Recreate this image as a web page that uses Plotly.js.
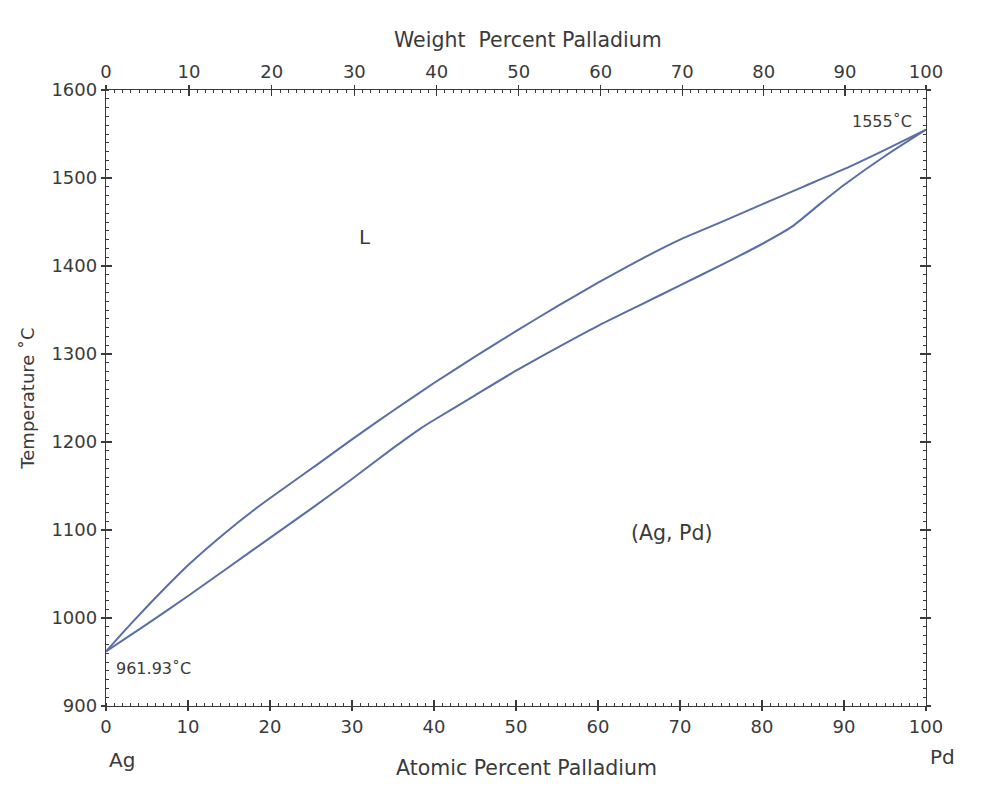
<!DOCTYPE html>
<html>
<head>
<meta charset="utf-8">
<script src="https://cdn.plot.ly/plotly-3.0.1.min.js"></script>
<style>html,body{margin:0;padding:0;background:#fff;}#chart{width:994px;height:796px;}</style>
</head>
<body>
<div id="chart"></div>
<script>
// Liquidus (upper curve): atomic % Pd vs temperature (°C)
const liquidusX = [0, 3, 7.4, 10, 14.3, 18, 22, 26, 30, 35, 40, 45, 50, 55, 60, 65, 70, 74.8, 80, 85, 90, 95, 100];
const liquidusT = [961.93, 993, 1036, 1060, 1095, 1122.5, 1149.5, 1176, 1203, 1235.5, 1267, 1297, 1326, 1354, 1381, 1406.5, 1430, 1449, 1470, 1490, 1510, 1532, 1555];
// Solidus (lower curve)
const solidusX = [0, 5, 10, 15, 20, 25, 30, 35, 38.3, 40, 45, 50, 55, 60, 65, 70, 75, 80, 83.7, 87, 90, 95, 100];
const solidusT = [961.93, 993, 1025, 1058, 1091, 1124, 1158, 1193, 1215, 1225, 1253, 1281, 1307, 1332, 1355, 1378, 1401, 1425, 1445, 1470, 1492, 1525, 1555];

// Top axis: weight percent Pd tick labels
const wtMajor = [0, 10, 20, 30, 40, 50, 60, 70, 80, 90, 100];
const massAg = 107.87, massPd = 106.42;

function atFromWt(w) {
  const a = w / massPd, b = (100 - w) / massAg;
  return 100 * a / (a + b);
}
const topMajorVals = wtMajor.map(atFromWt);
const topMinorVals = [];
for (let w = 1; w < 100; w++) if (w % 10 !== 0) topMinorVals.push(atFromWt(w));

const lineColor = '#5a6ea6';
const axColor = '#3a3a3a';
const fontFam = 'DejaVu Sans, sans-serif';

const traces = [
  {x: liquidusX, y: liquidusT, mode: 'lines', line: {color: lineColor, width: 2, shape: 'spline', smoothing: 0.6}, xaxis: 'x', yaxis: 'y', hoverinfo: 'skip', showlegend: false},
  {x: solidusX, y: solidusT, mode: 'lines', line: {color: lineColor, width: 2, shape: 'spline', smoothing: 0.6}, xaxis: 'x', yaxis: 'y', hoverinfo: 'skip', showlegend: false},
  {x: [], y: [], xaxis: 'x2', yaxis: 'y', showlegend: false},
  {x: [], y: [], xaxis: 'x3', yaxis: 'y', showlegend: false},
  {x: [], y: [], xaxis: 'x4', yaxis: 'y', showlegend: false},
  {x: [], y: [], xaxis: 'x', yaxis: 'y2', showlegend: false},
  {x: [], y: [], xaxis: 'x', yaxis: 'y3', showlegend: false},
  {x: [], y: [], xaxis: 'x', yaxis: 'y4', showlegend: false}
];

const tickFont = {family: fontFam, size: 18, color: axColor};
const xTitleFont = {family: fontFam, size: 20.5, color: axColor};
const yTitleFont = {family: fontFam, size: 18, color: axColor};

const layout = {
  width: 994, height: 796,
  margin: {l: 106, r: 68, t: 90, b: 90, autoexpand: false},
  paper_bgcolor: '#fff', plot_bgcolor: '#fff',
  showlegend: false,
  font: {family: fontFam, color: axColor},
  xaxis: {
    range: [0, 100], dtick: 10, tick0: 0, showgrid: false, zeroline: false,
    showline: true, linecolor: axColor, linewidth: 1.2,
    ticks: 'outside', ticklen: 4, tickcolor: axColor, tickwidth: 1.2,
    minor: {dtick: 1, ticks: 'inside', ticklen: 3, tickcolor: axColor, tickwidth: 1, showgrid: false},
    tickfont: tickFont,
    automargin: false, fixedrange: true
  },
  xaxis3: {
    overlaying: 'x', anchor: 'y', side: 'bottom', range: [0, 100], dtick: 10, tick0: 0,
    showgrid: false, zeroline: false, showline: false, showticklabels: false,
    ticks: 'inside', ticklen: 6, tickcolor: axColor, tickwidth: 1.2, fixedrange: true
  },
  xaxis2: {
    overlaying: 'x', anchor: 'y', side: 'top', range: [0, 100],
    tickmode: 'array', tickvals: topMajorVals, ticktext: wtMajor.map(String),
    showgrid: false, zeroline: false, showline: true, linecolor: axColor, linewidth: 1.2,
    ticks: 'outside', ticklen: 4, tickcolor: axColor, tickwidth: 1.2,
    minor: {tickmode: 'array', tickvals: topMinorVals, ticks: 'inside', ticklen: 3, tickcolor: axColor, tickwidth: 1, showgrid: false},
    tickfont: tickFont,
    automargin: false, fixedrange: true
  },
  xaxis4: {
    overlaying: 'x', anchor: 'y', side: 'top', range: [0, 100],
    tickmode: 'array', tickvals: topMajorVals,
    showgrid: false, zeroline: false, showline: false, showticklabels: false,
    ticks: 'inside', ticklen: 6, tickcolor: axColor, tickwidth: 1.2, fixedrange: true
  },
  yaxis: {
    range: [900, 1600], dtick: 100, tick0: 900, showgrid: false, zeroline: false,
    showline: true, linecolor: axColor, linewidth: 1.2,
    ticks: 'outside', ticklen: 4, tickcolor: axColor, tickwidth: 1.2,
    minor: {dtick: 10, ticks: 'inside', ticklen: 3, tickcolor: axColor, tickwidth: 1, showgrid: false},
    tickfont: tickFont,
    title: {text: 'Temperature ˚C', font: yTitleFont, standoff: 12},
    automargin: false, fixedrange: true
  },
  yaxis2: {
    overlaying: 'y', anchor: 'x', side: 'left', range: [900, 1600], dtick: 100, tick0: 900,
    showgrid: false, zeroline: false, showline: false, showticklabels: false,
    ticks: 'inside', ticklen: 6, tickcolor: axColor, tickwidth: 1.2, fixedrange: true
  },
  yaxis3: {
    overlaying: 'y', anchor: 'x', side: 'right', range: [900, 1600], dtick: 100, tick0: 900,
    showgrid: false, zeroline: false, showline: true, linecolor: axColor, linewidth: 1.2, showticklabels: false,
    ticks: 'inside', ticklen: 6, tickcolor: axColor, tickwidth: 1.2,
    minor: {dtick: 10, ticks: 'inside', ticklen: 3, tickcolor: axColor, tickwidth: 1, showgrid: false},
    fixedrange: true
  },
  yaxis4: {
    overlaying: 'y', anchor: 'x', side: 'right', range: [900, 1600], dtick: 100, tick0: 900,
    showgrid: false, zeroline: false, showline: false, showticklabels: false,
    ticks: 'outside', ticklen: 4, tickcolor: axColor, tickwidth: 1.2, fixedrange: true
  },
  annotations: [
    {x: 0.5146, y: 1.0812, xref: 'paper', yref: 'paper', text: 'Weight  Percent Palladium', showarrow: false, xanchor: 'center', yanchor: 'middle', font: xTitleFont},
    {x: 0.5122, y: -0.1006, xref: 'paper', yref: 'paper', text: 'Atomic Percent Palladium', showarrow: false, xanchor: 'center', yanchor: 'middle', font: xTitleFont},
    {x: 31.6, y: 1433, xref: 'x', yref: 'y', text: 'L', showarrow: false, font: {family: fontFam, size: 20, color: axColor}},
    {x: 69, y: 1097, xref: 'x', yref: 'y', text: '(Ag, Pd)', showarrow: false, font: {family: fontFam, size: 20.5, color: axColor}},
    {x: 1.0, y: 943, xref: 'x', yref: 'y', text: '961.93˚C', showarrow: false, xanchor: 'left', font: {family: fontFam, size: 16, color: axColor}},
    {x: 98.55, y: 1564, xref: 'x', yref: 'y', text: '1555˚C', showarrow: false, xanchor: 'right', font: {family: fontFam, size: 16, color: axColor}},
    {x: 0.0195, y: -0.088, xref: 'paper', yref: 'paper', text: 'Ag', showarrow: false, xanchor: 'center', yanchor: 'middle', font: {family: fontFam, size: 20, color: axColor}},
    {x: 1.02, y: -0.083, xref: 'paper', yref: 'paper', text: 'Pd', showarrow: false, xanchor: 'center', yanchor: 'middle', font: {family: fontFam, size: 20, color: axColor}}
  ]
};

Plotly.newPlot('chart', traces, layout, {displayModeBar: false, staticPlot: true});
</script>
</body>
</html>
